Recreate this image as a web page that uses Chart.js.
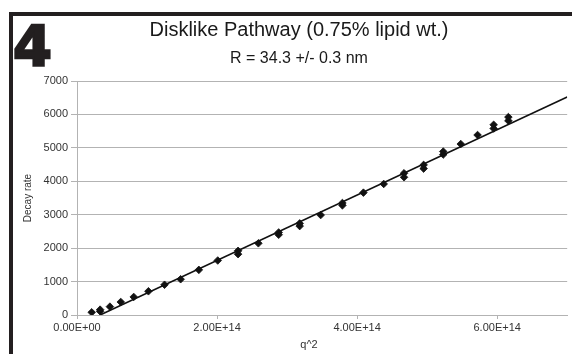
<!DOCTYPE html>
<html>
<head>
<meta charset="utf-8">
<script src="https://cdn.jsdelivr.net/npm/chart.js@4/dist/chart.umd.min.js"></script>
<style>
  html, body { margin: 0; padding: 0; background: #ffffff; overflow: hidden; }
  #wrap { position: relative; width: 572px; height: 354px; overflow: hidden; }
  #frame { position: absolute; left: 9px; top: 12px; width: 600px; height: 400px;
           border-top: 4px solid #231f20; border-left: 4px solid #231f20; z-index: 3; pointer-events: none; }
  #panel { position: absolute; left: 13px; top: 18px; font-family: "DejaVu Sans", sans-serif;
           font-weight: bold; font-size: 56px; line-height: 56px; color: #231f20;
           -webkit-text-stroke: 2.4px #231f20; z-index: 4; }
  .ttl { position: absolute; left: 0; width: 598px; text-align: center; font-family: "Liberation Sans", Arial, sans-serif;
         color: #1a1a1a; white-space: nowrap; z-index: 4; }
  #title { top: 19px; font-size: 20px; line-height: 20px; }
  #subtitle { top: 50px; font-size: 16px; line-height: 16px; }
  #xtitle { position: absolute; left: 259px; width: 100px; top: 339px; text-align: center; font-family: "Liberation Sans", Arial, sans-serif;
            font-size: 11px; line-height: 11px; color: #333333; z-index: 4; }
  canvas { position: absolute; left: 0; top: 0; }
</style>
</head>
<body>
<div id="wrap">
  <canvas id="c" width="572" height="354"></canvas>
  <div id="frame"></div>
  <div id="panel">4</div>
  <div class="ttl" id="title">Disklike Pathway (0.75% lipid wt.)</div>
  <div class="ttl" id="subtitle">R = 34.3 +/- 0.3 nm</div>
  <div id="xtitle">q^2</div>
</div>
<script>
// Measured data (q^2 in m^-2, decay rate)
const q2 = [0.21e14, 0.33e14, 0.33e14, 0.47e14, 0.625e14, 0.81e14, 1.02e14, 1.25e14, 1.48e14, 1.74e14,
            2.01e14, 2.30e14, 2.30e14, 2.59e14, 2.88e14, 2.88e14, 3.18e14, 3.18e14, 3.48e14, 3.79e14,
            3.79e14, 4.09e14, 4.38e14, 4.67e14, 4.67e14, 4.95e14, 4.95e14, 5.23e14, 5.23e14, 5.48e14,
            5.72e14, 5.95e14, 5.95e14, 6.16e14, 6.16e14];
const decayRate = [80, 110, 160, 250, 390, 540, 710, 905, 1070, 1350,
                   1630, 1820, 1920, 2145, 2400, 2470, 2660, 2740, 2990, 3280,
                   3350, 3660, 3920, 4120, 4240, 4380, 4490, 4800, 4890, 5115,
                   5384, 5580, 5690, 5810, 5920];
// Linear fit line end points
const fitX = [0.33e14, 7.0e14];
const fitY = [0, 6520];
// Axis ticks
const xTicks = [0, 2e14, 4e14, 6e14];
const yTicks = [0, 1000, 2000, 3000, 4000, 5000, 6000, 7000];

function sci(v) {
  let s = Number(v).toExponential(2).toUpperCase();
  return s.replace(/E([+-])(\d)$/, 'E$10$2');
}

const pts = q2.map((x, i) => ({ x: x, y: decayRate[i] }));
const fit = fitX.map((x, i) => ({ x: x, y: fitY[i] }));
const gridCol = '#b3b3b3';

new Chart(document.getElementById('c'), {
  type: 'scatter',
  data: {
    datasets: [
      { label: 'fit', data: fit, showLine: true, borderColor: '#111111', borderWidth: 1.6,
        pointRadius: 0, fill: false, order: 0 },
      { label: 'data', data: pts, pointStyle: 'rectRot', pointRadius: 3.8,
        backgroundColor: '#111111', borderColor: '#111111', borderWidth: 0.8, order: 1 }
    ]
  },
  options: {
    responsive: false,
    animation: false,
    layout: { padding: { left: 20, top: 81, right: 0, bottom: 0 } },
    plugins: { legend: { display: false }, tooltip: { enabled: false } },
    scales: {
      x: {
        type: 'linear', min: 0, max: 7e14,
        afterBuildTicks: s => { s.ticks = xTicks.map(v => ({ value: v })); },
        afterFit: s => { s.height = 39; },
        grid: { drawOnChartArea: false, drawTicks: true, tickLength: 4, color: gridCol, lineWidth: 1 },
        border: { display: true, color: gridCol, width: 1 },
        ticks: { callback: v => sci(v), padding: 2, color: '#333333', maxRotation: 0,
                 font: { family: '"Liberation Sans", Arial, sans-serif', size: 11 } }
      },
      y: {
        type: 'linear', min: 0, max: 7000,
        afterBuildTicks: s => { s.ticks = yTicks.map(v => ({ value: v })); },
        afterFit: s => { s.width = 57; },
        grid: { drawOnChartArea: true, drawTicks: true, tickLength: 6, color: gridCol, lineWidth: 1 },
        border: { display: true, color: gridCol, width: 1 },
        ticks: { callback: v => String(v), padding: 3, color: '#333333',
                 font: { family: '"Liberation Sans", Arial, sans-serif', size: 11 } },
        title: { display: true, text: 'Decay rate', color: '#333333', padding: { top: 2, bottom: 0 },
                 font: { family: '"Liberation Sans", Arial, sans-serif', size: 10 } }
      }
    }
  }
});
</script>
</body>
</html>
